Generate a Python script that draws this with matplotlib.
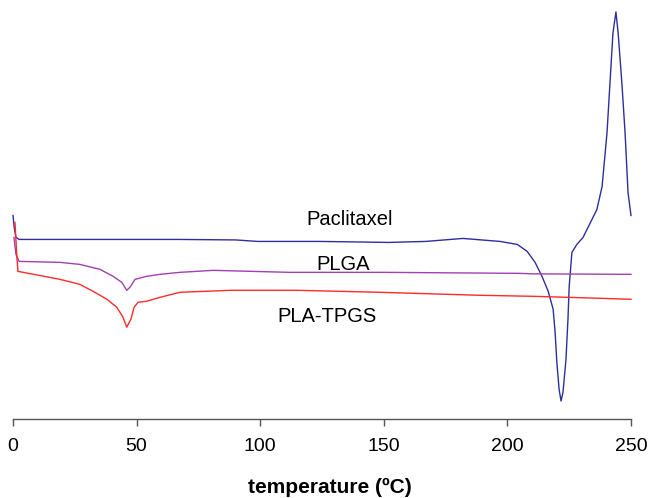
import matplotlib
matplotlib.use("Agg")
import matplotlib.pyplot as plt

plt.rcParams['font.family'] = ['Liberation Sans', 'DejaVu Sans']

# DSC thermograms (heat flow in arbitrary units)
temp_ptx = [0, 0.5, 1.2, 2.5, 20, 50, 67, 90, 99, 124, 152, 167, 182, 197, 204,
            208, 211.2, 214, 216.5, 218.5, 219.3, 220, 220.9, 221.7, 222.5, 223.7,
            224.5, 225, 226.1, 228.1, 230.6, 232.6, 234.2, 236.2, 238.3, 240.3,
            241.5, 242.7, 243.9, 244.8, 246.3, 247.6, 248.8, 250]
hf_ptx = [20.4, 19.2, 18.2, 18.0, 18.0, 18.0, 18.0, 17.95, 17.8, 17.8, 17.7, 17.8,
          18.1, 17.8, 17.5, 16.8, 15.7, 14.3, 12.8, 11.0, 8.7, 5.7, 3.0, 1.8, 2.7,
          6.0, 10.0, 13.3, 16.7, 17.5, 18.2, 19.2, 20.0, 21.0, 23.3, 28.7, 33.7,
          38.7, 40.8, 38.7, 33.7, 28.7, 22.7, 20.4]

temp_plga = [0.4, 1.2, 2.5, 19, 27, 35.2, 40.5, 44, 46, 47.3, 49.4, 54, 59.5, 67.5,
             81, 112, 150, 205, 210, 250]
hf_plga = [18.2, 16.5, 15.8, 15.7, 15.5, 15.0, 14.3, 13.7, 12.9, 13.2, 14.0, 14.3,
           14.5, 14.7, 14.9, 14.7, 14.7, 14.6, 14.55, 14.5]

temp_tpgs = [0.8, 1.5, 2, 19, 27, 32.4, 38, 42, 44.5, 46, 47.7, 49, 50.6, 54, 59.5,
             67.5, 88, 115, 148.5, 189, 210, 237.5, 250]
hf_tpgs = [19.7, 16.5, 14.8, 14.0, 13.5, 12.8, 12.0, 11.2, 10.2, 9.2, 10.0, 11.2,
           11.7, 11.8, 12.2, 12.7, 12.9, 12.9, 12.7, 12.4, 12.3, 12.1, 12.0]

fig = plt.figure(figsize=(6.48, 4.98), dpi=100)
ax = fig.add_axes([13 / 648, 79 / 498, 618 / 648, 419 / 498])

ax.plot(temp_ptx, hf_ptx, color='#2e2e9e', lw=1.0, clip_on=False)
ax.plot(temp_plga, hf_plga, color='#a040b0', lw=1.0, clip_on=False)
ax.plot(temp_tpgs, hf_tpgs, color='#ff2a2a', lw=1.0, clip_on=False)

ax.text(136.3, 20.0, 'Paclitaxel', fontsize=14.5, ha='center', va='center')
ax.text(133.5, 15.5, 'PLGA', fontsize=14.5, ha='center', va='center')
ax.text(127, 10.3, 'PLA-TPGS', fontsize=14.5, ha='center', va='center')

ax.set_xlim(0, 250)
ax.set_ylim(0, 42)
for s in ['left', 'top', 'right']:
    ax.spines[s].set_visible(False)
ax.spines['bottom'].set_color('#555555')
ax.spines['bottom'].set_linewidth(1.0)
ax.set_yticks([])
ax.set_xticks([0, 50, 100, 150, 200, 250])
ax.tick_params(axis='x', direction='out', length=5, width=1.0, color='#555555',
               labelsize=14, pad=9)
ax.set_xlabel('temperature (ºC)', fontsize=15, fontweight='bold')
ax.xaxis.set_label_coords(0.512, -0.141)

fig.savefig('out.png', dpi=100)
